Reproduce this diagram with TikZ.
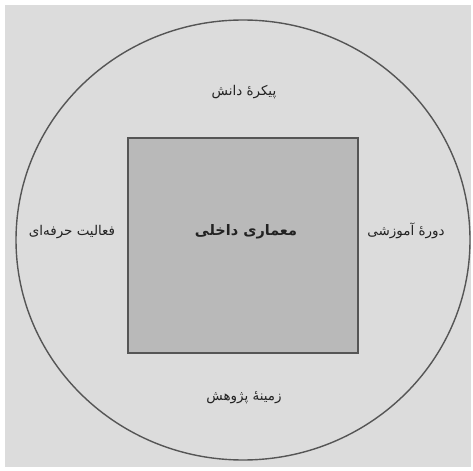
\documentclass[tikz,border=0pt]{standalone}
\usepackage{fontspec}
\usepackage{tikz}
\usetikzlibrary{shapes.geometric,positioning}
\TeXXeTstate=1
\newfontfamily\farsifont[Script=Arabic]{DejaVu Sans}
\definecolor{bggray}{HTML}{DCDCDC}
\definecolor{boxgray}{HTML}{B9B9B9}
\definecolor{edgegray}{HTML}{555555}
\definecolor{inkgray}{HTML}{222222}

\begin{document}
\begin{tikzpicture}[x=1bp,y=-1bp,
    fieldtext/.style={font=\farsifont\fontsize{13.5}{15}\selectfont, text=inkgray},
    coretext/.style={font=\farsifont\bfseries\fontsize{14.5}{16}\selectfont, text=inkgray}]
	\useasboundingbox (0,0) rectangle (473,471);
	\fill[white] (0,0) rectangle (473,471);
	\fill[bggray] (5,5) rectangle (471,467);
	% outer field and inner square
	\node[ellipse, draw=edgegray, line width=1.4bp, minimum width=454bp, minimum height=440bp] (field) at (243,240) {};
	\node[draw=edgegray, line width=1.4bp, fill=boxgray, minimum width=230bp, minimum height=215bp] (core) at (243,245.5) {};
	\node[coretext] (arch) at (246,232) {\beginR معماری داخلی\endR};
	% the four surrounding fields
	\node[fieldtext] (corpus) at (244,92) {\beginR پیکرهٔ دانش\endR};
	\node[fieldtext] (practice) at (72,232) {\beginR فعالیت حرفه‌ای\endR};
	\node[fieldtext] (course) at (406,231) {\beginR دورهٔ آموزشی\endR};
	\node[fieldtext] (research) at (244,398) {\beginR زمینهٔ پژوهش\endR};
\end{tikzpicture}
\end{document}
